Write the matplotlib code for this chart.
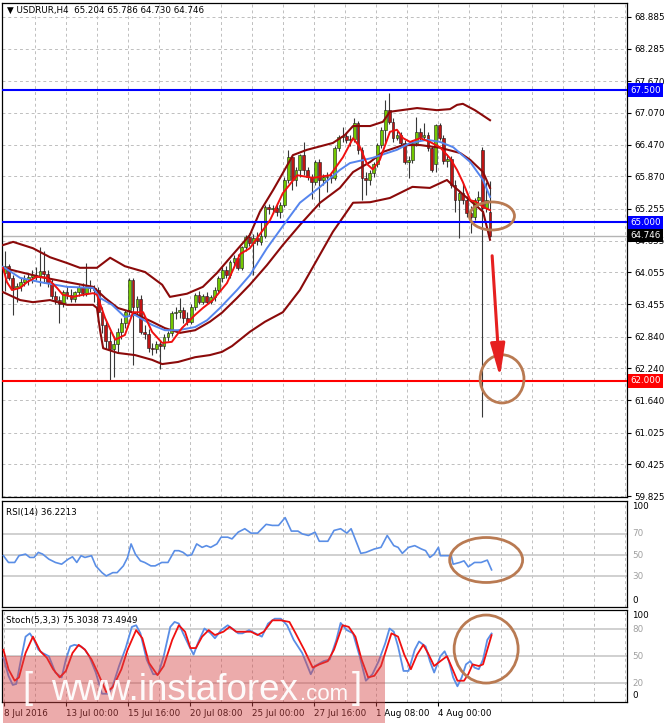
import matplotlib
matplotlib.use("Agg")
import matplotlib.pyplot as plt
from matplotlib.patches import Ellipse, Rectangle, FancyArrowPatch

plt.rcParams['font.family'] = ['DejaVu Sans']

# USDRUR H4 candles (bar index 0 = 8 Jul 2016 08:00)
opens = [64.05, 64.18, 63.95, 63.75, 63.80, 63.88, 63.92, 63.97, 64.00, 63.96,
         64.08, 64.02, 63.85, 63.60, 63.53, 63.45, 63.68, 63.62, 63.55, 63.68,
         63.78, 63.66, 63.80, 63.76, 63.72, 63.30, 63.05, 62.75, 62.60, 62.70,
         62.92, 63.10, 63.35, 63.91, 63.40, 63.55, 62.93, 62.88, 62.62, 62.60,
         62.70, 62.66, 62.83, 62.90, 63.28, 63.30, 63.34, 63.20, 63.12, 63.40,
         63.63, 63.50, 63.61, 63.50, 63.58, 63.72, 63.95, 64.10, 64.00, 64.25,
         64.33, 64.14, 64.53, 64.72, 64.60, 64.70, 64.62, 64.75, 65.29, 65.25,
         65.27, 65.20, 65.33, 65.80, 66.23, 65.80, 65.99, 66.28, 65.99, 65.86,
         65.76, 66.14, 65.80, 65.86, 65.88, 65.84, 66.40, 66.61, 66.63, 66.56,
         66.58, 66.88, 66.37, 65.84, 65.80, 65.93, 66.10, 66.46, 66.74, 67.12,
         66.90, 66.59, 66.65, 66.50, 66.14, 66.18, 66.50, 66.71, 66.62, 66.66,
         66.40, 66.10, 66.84, 66.60, 66.16, 66.20, 65.71, 65.42, 65.55, 65.42,
         65.18, 65.10, 65.42, 66.37, 65.27, 65.204]
highs = [64.45, 64.22, 64.00, 63.85, 63.95, 64.00, 64.05, 64.10, 64.15, 64.53,
         64.45, 64.10, 63.92, 63.70, 63.60, 63.72, 63.80, 63.74, 63.70, 63.82,
         63.85, 64.23, 63.90, 63.82, 63.78, 63.40, 63.15, 62.95, 62.85, 63.00,
         63.20, 63.35, 63.95, 63.95, 63.60, 63.62, 63.05, 62.98, 62.72, 62.75,
         62.78, 62.88, 62.95, 63.32, 63.40, 63.57, 63.40, 63.30, 63.45, 63.66,
         63.70, 63.65, 63.68, 63.62, 63.78, 63.98, 64.15, 64.18, 64.28, 64.38,
         64.40, 64.56, 64.76, 64.80, 64.78, 64.82, 65.00, 65.33, 65.35, 65.32,
         65.36, 65.38, 65.85, 66.37, 66.28, 66.05, 66.30, 66.52, 66.05, 65.92,
         66.18, 66.20, 65.92, 65.95, 65.96, 66.44, 66.66, 66.80, 66.70, 66.65,
         66.97, 66.92, 66.42, 65.95, 65.98, 66.14, 66.50, 66.80, 67.31, 67.44,
         66.98, 66.72, 66.70, 66.55, 66.25, 66.55, 66.99, 66.78, 66.88, 66.70,
         66.45, 66.86, 66.88, 66.65, 66.30, 66.25, 65.80, 65.60, 65.74, 65.50,
         65.30, 65.46, 65.60, 66.42, 65.76, 65.786]
lows = [63.70, 63.90, 63.25, 63.50, 63.70, 63.80, 63.82, 63.85, 63.90, 63.80,
        63.85, 63.78, 63.55, 63.45, 63.10, 63.40, 63.55, 63.50, 63.50, 63.60,
        63.60, 63.60, 63.68, 63.50, 63.20, 62.90, 62.60, 62.02, 62.08, 62.55,
        62.80, 63.00, 63.25, 62.30, 63.25, 62.88, 62.80, 62.55, 62.50, 62.52,
        62.22, 62.60, 62.75, 62.85, 63.18, 63.20, 63.10, 63.05, 63.08, 63.35,
        63.45, 63.45, 63.45, 63.45, 63.52, 63.68, 63.88, 63.95, 63.95, 64.18,
        64.10, 64.10, 64.45, 64.55, 64.00, 64.58, 64.58, 64.70, 65.15, 65.18,
        65.12, 65.08, 65.28, 65.75, 65.62, 65.68, 65.85, 65.90, 65.80, 65.45,
        65.70, 65.29, 65.70, 65.57, 65.75, 65.80, 66.35, 66.52, 66.50, 66.45,
        66.52, 66.30, 65.42, 65.52, 65.70, 65.85, 66.05, 66.40, 66.50, 66.85,
        66.52, 66.55, 66.45, 66.10, 65.84, 66.12, 66.45, 66.55, 66.55, 66.35,
        65.95, 65.95, 66.55, 66.10, 66.05, 65.65, 65.19, 64.70, 65.35, 65.10,
        64.80, 65.05, 65.30, 61.32, 65.20, 64.730]
closes = [64.18, 63.95, 63.75, 63.80, 63.88, 63.92, 63.97, 64.00, 63.96, 64.08,
          64.02, 63.85, 63.60, 63.53, 63.45, 63.68, 63.62, 63.55, 63.68, 63.78,
          63.66, 63.80, 63.76, 63.72, 63.30, 63.05, 62.75, 62.60, 62.70, 62.92,
          63.10, 63.30, 63.91, 63.40, 63.55, 62.93, 62.88, 62.62, 62.60, 62.70,
          62.66, 62.83, 62.90, 63.28, 63.30, 63.34, 63.20, 63.12, 63.40, 63.63,
          63.50, 63.61, 63.50, 63.58, 63.72, 63.95, 64.10, 64.00, 64.25, 64.33,
          64.14, 64.53, 64.72, 64.60, 64.70, 64.65, 64.75, 65.29, 65.25, 65.27,
          65.20, 65.33, 65.80, 66.23, 65.80, 65.99, 66.28, 65.99, 65.86, 65.76,
          66.14, 65.80, 65.86, 65.88, 65.84, 66.40, 66.61, 66.63, 66.56, 66.58,
          66.88, 66.37, 65.84, 65.80, 65.93, 66.10, 66.46, 66.74, 67.12, 66.90,
          66.59, 66.65, 66.50, 66.14, 66.18, 66.50, 66.71, 66.62, 66.66, 66.40,
          65.99, 66.84, 66.60, 66.16, 66.20, 65.71, 65.42, 65.55, 65.42, 65.18,
          65.10, 65.42, 65.48, 65.27, 65.42, 64.746]

# Bollinger bands (dark red)
bb_up_x = [-0.5, 2.1, 7.2, 11.6, 16.0, 19.3, 23.7, 27.1, 30.9, 36.1, 40.5, 42.5,
           46.9, 51.0, 54.6, 58.0, 63.1, 65.7, 69.1, 71.6, 74.2, 77.8, 80.4, 84.5,
           87.6, 89.7, 94.1, 97.4, 99.2, 106.2, 111.3, 114.7, 116.5, 118.0, 121.1, 125.0]
bb_up_y = [64.57, 64.63, 64.51, 64.34, 64.23, 64.14, 64.14, 64.33, 64.17, 64.06, 63.82, 63.59,
           63.65, 63.78, 64.04, 64.33, 64.76, 65.20, 65.61, 65.93, 66.27, 66.37, 66.42, 66.50,
           66.65, 66.82, 66.82, 66.90, 67.09, 67.16, 67.12, 67.14, 67.22, 67.24, 67.12, 66.93]
bb_mid_x = [-0.5, 3.9, 9.0, 16.0, 22.7, 25.8, 29.1, 32.7, 37.9, 41.2, 45.1, 49.0, 52.8,
            55.9, 59.8, 63.1, 67.5, 71.6, 76.0, 81.2, 86.3, 89.7, 94.1, 97.4, 102.6,
            107.0, 112.1, 117.3, 119.9, 123.2, 125.0]
bb_mid_y = [64.14, 64.06, 63.97, 63.87, 63.78, 63.57, 63.38, 63.30, 63.12, 63.00, 62.91, 62.96, 63.12,
            63.29, 63.57, 63.82, 64.19, 64.57, 64.95, 65.37, 65.65, 65.95, 66.14, 66.33, 66.46,
            66.46, 66.41, 66.31, 66.18, 65.95, 65.65]
bb_lo_x = [-0.5, 3.9, 7.2, 11.6, 16.0, 22.7, 23.7, 24.5, 25.3, 29.1, 33.5, 37.9, 40.5,
           44.6, 49.0, 52.8, 55.9, 58.5, 63.1, 67.0, 71.6, 76.0, 80.4, 84.5, 86.3, 89.7,
           94.1, 99.2, 105.0, 109.5, 113.9, 115.5, 119.1, 123.2, 125.0]
bb_lo_y = [63.68, 63.53, 63.49, 63.53, 63.44, 63.44, 63.38, 62.96, 62.62, 62.53, 62.49, 62.40, 62.32,
           62.36, 62.45, 62.49, 62.55, 62.66, 62.93, 63.12, 63.30, 63.72, 64.29, 64.82, 65.01, 65.37,
           65.38, 65.46, 65.67, 65.65, 65.80, 65.69, 65.46, 65.20, 64.67]

# moving averages
ma_slow_x = [-0.5, 3.9, 9.0, 16.0, 22.7, 24.5, 27.6, 30.9, 33.5, 37.9, 41.2, 44.6, 49.0,
             52.1, 55.4, 59.8, 63.1, 67.5, 72.7, 76.0, 81.2, 86.3, 88.9, 94.8, 101.0,
             104.4, 108.8, 112.1, 115.5, 119.9, 123.2, 125.0]
ma_slow_y = [64.16, 63.95, 63.87, 63.78, 63.76, 63.57, 63.44, 63.21, 63.25, 63.06, 62.96, 62.96, 63.02,
             63.15, 63.38, 63.72, 64.00, 64.51, 65.04, 65.37, 65.67, 65.99, 66.12, 66.22, 66.37,
             66.50, 66.56, 66.52, 66.42, 66.14, 65.80, 65.48]
ma_fast_x = [-0.5, 0.5, 1.8, 3.9, 5.7, 8.2, 10.8, 13.4, 14.9, 17.5, 20.1, 22.7, 23.7, 25.8,
             28.4, 30.9, 33.0, 35.6, 37.9, 40.5, 43.0, 45.6, 49.0, 51.0, 53.6, 57.2, 60.6,
             63.1, 68.3, 71.6, 75.3, 79.4, 83.8, 87.1, 89.7, 91.5, 93.3, 94.8, 96.6, 99.2,
             101.0, 102.6, 104.4, 107.0, 109.5, 112.1, 114.7, 116.5, 118.0, 119.9, 121.6,
             123.2, 125.0]
ma_fast_y = [64.14, 63.87, 63.72, 63.76, 63.87, 63.97, 63.95, 63.76, 63.63, 63.59, 63.63, 63.66, 63.63, 63.19,
             62.78, 62.87, 63.30, 63.30, 62.93, 62.72, 62.74, 63.00, 63.25, 63.38, 63.53, 63.85, 64.40,
             64.51, 65.04, 65.55, 65.89, 65.84, 65.89, 66.23, 66.59, 66.42, 66.10, 66.00, 66.18, 66.71,
             66.75, 66.59, 66.52, 66.59, 66.52, 66.42, 66.21, 65.99, 65.76, 65.42, 65.38,
             65.29, 65.23]

# RSI(14)
rsi_x = [-0.4, 0.9, 2.5, 3.6, 5.3, 6.4, 7.5, 8.6, 9.7, 11.3, 13.0, 14.6, 16.3, 17.4, 18.5,
         19.6, 20.6, 22.3, 23.4, 25.0, 26.1, 27.8, 28.9, 30.5, 31.6, 32.5, 33.6, 34.9, 36.0,
         37.6, 38.7, 40.4, 42.0, 43.7, 44.8, 45.9, 47.0, 48.1, 49.4, 50.8, 51.9, 53.0, 54.6,
         55.7, 57.4, 58.5, 60.1, 61.8, 63.4, 65.1, 67.3, 68.9, 70.5, 72.2, 73.8, 75.5, 76.6,
         78.2, 79.9, 81.0, 83.2, 84.8, 86.5, 88.1, 89.2, 91.7, 93.0, 94.1, 95.2, 96.9, 98.5,
         100.2, 101.3, 102.4, 104.0, 105.6, 107.3, 108.4, 109.5, 110.6, 111.7, 112.2, 113.9,
         115.0, 115.5, 117.2, 118.3, 119.4, 121.0, 122.7, 124.3, 125.4]
rsi_y = [49.4, 43.1, 43.1, 49.4, 50.9, 47.8, 47.8, 52.5, 50.9, 46.2, 43.1, 41.5, 46.2, 48.4, 43.1,
         49.4, 47.8, 49.4, 39.9, 33.6, 30.5, 33.6, 33.6, 39.9, 47.8, 60.4, 50.9, 44.6, 43.1,
         39.9, 39.9, 43.1, 43.1, 54.1, 54.1, 52.5, 49.4, 50.3, 60.4, 57.2, 58.8, 57.2, 60.4,
         66.7, 66.7, 65.1, 71.4, 74.6, 70.5, 70.5, 78.7, 77.7, 77.7, 85.0, 72.4, 72.4, 69.8,
         68.3, 71.4, 62.9, 62.9, 73.0, 74.6, 70.5, 74.6, 51.6, 52.5, 54.1, 55.7, 57.2, 68.3,
         58.8, 57.2, 51.6, 57.2, 58.8, 55.7, 54.1, 47.8, 50.9, 57.2, 49.4, 49.4,
         49.4, 41.5, 43.1, 44.6, 39.0, 43.1, 43.1, 45.3, 36.2]

# Stochastic(5,3,3)
stk_x = [-0.4, 0.9, 2.0, 2.9, 4.2, 5.3, 6.4, 7.5, 8.6, 9.7, 11.3, 13.0, 14.6, 15.7, 16.8,
         17.9, 19.6, 20.6, 21.7, 23.4, 25.0, 26.7, 27.8, 29.4, 31.1, 32.7, 33.8, 34.9, 36.5,
         38.2, 39.5, 40.9, 42.6, 43.7, 44.8, 45.9, 47.5, 48.6, 49.7, 51.4, 53.0, 54.1, 55.7,
         57.4, 58.5, 60.1, 61.2, 62.9, 64.5, 66.2, 67.8, 69.5, 71.1, 72.7, 74.4, 76.6, 78.8,
         79.9, 82.1, 83.7, 85.4, 86.5, 88.1, 89.7, 91.4, 93.0, 94.7, 96.3, 98.0, 99.1, 100.2,
         101.3, 102.7, 104.0, 105.6, 106.7, 108.4, 109.5, 110.6, 112.2, 113.3, 114.4, 115.5,
         116.6, 117.7, 118.8, 119.9, 121.0, 122.1, 123.2, 124.3, 125.4]
stk_y = [48.2, 28.2, 18.0, 19.1, 48.2, 71.8, 75.5, 68.2, 57.3, 53.6, 50.0, 31.8, 26.4, 46.4, 60.9,
         62.7, 60.9, 57.3, 50.0, 31.8, 8.2, 8.2, 17.3, 39.1, 59.1, 82.7, 84.5, 75.5, 46.4,
         30.0, 30.0, 50.0, 82.7, 88.2, 86.4, 75.5, 60.9, 51.8, 64.5, 80.9, 75.5, 70.0, 79.1,
         84.5, 80.9, 75.5, 75.5, 79.1, 75.5, 71.8, 86.4, 91.8, 91.8, 84.5, 68.2, 53.6, 30.0,
         39.1, 44.5, 46.4, 68.2, 87.1, 79.1, 75.5, 50.0, 22.7, 30.0, 44.5, 64.5, 80.9, 77.3,
         60.9, 33.6, 33.6, 57.3, 66.4, 60.9, 44.5, 31.8, 50.0, 55.5, 44.5, 26.4,
         16.5, 26.4, 40.9, 44.5, 37.3, 35.5, 46.4, 68.2, 75.3]
std_x = [-0.4, 0.9, 2.5, 3.6, 5.3, 7.2, 9.1, 10.8, 12.4, 14.1, 15.7, 17.4, 19.0, 20.6, 22.3,
         23.9, 26.1, 27.8, 30.0, 31.6, 33.8, 35.4, 37.1, 39.3, 40.9, 43.1, 44.8, 46.4, 47.8,
         49.2, 50.8, 52.5, 54.1, 56.3, 57.9, 59.6, 61.2, 63.4, 65.1, 66.7, 68.9, 71.1, 73.3,
         74.9, 77.1, 79.3, 81.0, 83.2, 84.8, 87.0, 88.6, 90.3, 91.9, 93.6, 95.2, 96.9, 99.6,
         101.3, 102.9, 104.6, 106.2, 107.8, 109.0, 110.6, 112.2, 113.9, 115.0, 116.6, 118.3,
         119.4, 120.5, 122.1, 123.2, 124.3, 125.4]
std_y = [57.3, 35.5, 22.7, 26.4, 53.6, 71.8, 55.5, 48.2, 35.5, 26.4, 33.6, 53.6, 62.7, 57.3, 46.4,
         31.8, 10.0, 15.5, 35.5, 57.3, 79.1, 70.0, 42.7, 28.9, 39.1, 68.2, 84.5, 77.3, 59.1,
         59.1, 71.8, 79.1, 73.6, 77.3, 82.7, 77.3, 77.3, 77.3, 73.6, 77.3, 90.0, 90.0, 88.2,
         75.5, 57.3, 37.3, 40.9, 44.5, 57.3, 84.5, 82.7, 71.8, 46.4, 26.4, 28.2, 39.1, 75.5,
         71.8, 51.8, 35.5, 51.8, 62.7, 53.6, 39.1, 44.5, 50.0, 39.1, 22.7, 22.7,
         30.0, 40.9, 39.1, 40.9, 57.3, 73.5]

price_ticks = [68.885, 68.285, 67.670, 67.070, 66.470, 65.870, 65.255, 64.655,
               64.055, 63.455, 62.840, 62.240, 61.640, 61.025, 60.425, 59.825]
level_blue = [67.5, 65.0]
level_red = 62.0
last_price = 64.746
date_bars = [0, 16, 32, 48, 64, 80, 96, 112]
date_labels = ['8 Jul 2016', '13 Jul 00:00', '15 Jul 16:00', '20 Jul 08:00',
               '25 Jul 00:00', '27 Jul 16:00', '1 Aug 08:00', '4 Aug 00:00']

DARKRED = '#8B0A0A'
MABLUE = '#5585EE'
GRID = '#BEBEBE'
BROWN = '#B97A52'
FS = 6.3

fig = plt.figure(figsize=(6.65, 7.23), dpi=100)
ax = fig.add_axes([2/665, 1-497/723, 625/665, 494/723])
ax_rsi = fig.add_axes([2/665, 1-607/723, 625/665, 106/723])
ax_st = fig.add_axes([2/665, 1-702/723, 625/665, 92/723])

xlim = (-0.77, 160.3)
grid_x = [8*k - 0.3 for k in range(1, 21)]

for a in (ax, ax_rsi, ax_st):
    a.set_xlim(*xlim)
    for s in a.spines.values():
        s.set_linewidth(0.9)
        s.set_color('black')

# ---- main panel ----
idx = list(range(len(closes)))
bottoms = [min(o, c) for o, c in zip(opens, closes)]
heights = [abs(c - o) for o, c in zip(opens, closes)]
colors = ['#72C800' if c >= o else '#C01414' for o, c in zip(opens, closes)]
ax.vlines(idx, lows, highs, color='#383838', lw=0.8, zorder=2)
ax.bar(idx, heights, bottom=bottoms, width=0.72, color=colors,
       edgecolor='#1a1a1a', linewidth=0.4, zorder=3)

ax.plot(bb_up_x, bb_up_y, color=DARKRED, lw=1.5, zorder=4)
ax.plot(bb_mid_x, bb_mid_y, color=DARKRED, lw=1.5, zorder=4)
ax.plot(bb_lo_x, bb_lo_y, color=DARKRED, lw=1.5, zorder=4)
ax.plot(ma_slow_x, ma_slow_y, color=MABLUE, lw=1.4, zorder=5)
ax.plot(ma_fast_x, ma_fast_y, color='#F01010', lw=1.4, zorder=6)

for v in level_blue:
    ax.axhline(v, color='#0000FF', lw=1.5, zorder=4)
ax.axhline(level_red, color='#FF0000', lw=1.5, zorder=4)
ax.axhline(last_price, color='#B4B4B4', lw=1.0, zorder=1)

ax.set_ylim(59.807, 69.146)
ax.set_xticks(grid_x)
ax.tick_params(axis='x', length=0, labelbottom=False)
ax.yaxis.tick_right()
ax.set_yticks(price_ticks)
ax.set_yticklabels([f"{v:.3f}" for v in price_ticks])
ax.tick_params(axis='y', labelsize=FS, length=3, pad=2)
ax.grid(True, ls=(0, (3, 3)), color=GRID, lw=0.7)
ax.set_axisbelow(True)

ytr = ax.get_yaxis_transform()
box = dict(boxstyle='square,pad=0.25', ec='none')
for v in level_blue:
    ax.text(1.005, v, f"{v:.3f}", transform=ytr, fontsize=FS, color='white',
            va='center', ha='left', bbox=dict(box, fc='#0000FF'), clip_on=False, zorder=10)
ax.text(1.005, level_red, f"{level_red:.3f}", transform=ytr, fontsize=FS, color='white',
        va='center', ha='left', bbox=dict(box, fc='#FF0000'), clip_on=False, zorder=10)
ax.text(1.005, last_price, f"{last_price:.3f}", transform=ytr, fontsize=FS, color='white',
        va='center', ha='left', bbox=dict(box, fc='black'), clip_on=False, zorder=10)

ax.text(0.008, 0.986, "\u25bc USDRUR,H4  65.204 65.786 64.730 64.746",
        transform=ax.transAxes, fontsize=FS, va='center', ha='left')

# annotations
ax.add_patch(Ellipse((125.5, 65.12), 11.6, 0.53, fill=False, ec=BROWN, lw=2.0,
                     zorder=8, clip_on=False))
ax.add_patch(Ellipse((128.1, 62.04), 11.3, 0.91, fill=False, ec=BROWN, lw=2.0,
                     zorder=8, clip_on=False))
ax.add_patch(FancyArrowPatch((125.5, 64.42), (127.6, 62.02),
                             arrowstyle='-|>,head_length=1.0,head_width=0.22',
                             mutation_scale=20, color='#E62020', lw=2.2, zorder=9))

# ---- RSI ----
ax_rsi.plot(rsi_x, rsi_y, color='#5A8EE6', lw=1.2, zorder=3)
for v in (70, 50, 30):
    ax_rsi.axhline(v, color='#C8C8C8', lw=1.2, zorder=1)
ax_rsi.set_ylim(1.5, 100.5)
ax_rsi.set_xticks(grid_x)
ax_rsi.set_yticks([])
ax_rsi.tick_params(axis='x', length=0, labelbottom=False)
ax_rsi.grid(True, axis='x', ls=(0, (3, 3)), color=GRID, lw=0.7)
ax_rsi.set_axisbelow(True)
rtr = ax_rsi.get_yaxis_transform()
ax_rsi.text(1.008, 99.5, "100", transform=rtr, fontsize=FS, va='top', clip_on=False)
for v in (70, 50, 30):
    ax_rsi.text(1.008, v, str(v), transform=rtr, fontsize=FS, va='center',
                color='#A0A0A0', clip_on=False)
ax_rsi.text(1.008, 3, "0", transform=rtr, fontsize=FS, va='bottom', clip_on=False)
ax_rsi.text(0.006, 0.895, "RSI(14) 36.2213", transform=ax_rsi.transAxes,
            fontsize=FS, va='center')
ax_rsi.add_patch(Ellipse((124.0, 45.4), 18.8, 42, fill=False, ec=BROWN, lw=2.0,
                         zorder=8, clip_on=False))

# ---- Stochastic ----
ax_st.plot(stk_x, stk_y, color='#5A8EE6', lw=1.3, zorder=3)
ax_st.plot(std_x, std_y, color='#F01010', lw=1.3, zorder=4)
for v in (80, 50, 20):
    ax_st.axhline(v, color='#C8C8C8', lw=1.2, zorder=1)
ax_st.set_ylim(-1, 101.5)
ax_st.set_yticks([])
date_pos = [b - 0.3 for b in date_bars]
ax_st.set_xticks(date_pos)
ax_st.set_xticklabels(date_labels)
for lab in ax_st.get_xticklabels():
    lab.set_ha('left')
ax_st.set_xticks([g for g in grid_x if g not in date_pos], minor=True)
ax_st.tick_params(axis='x', which='major', length=3, labelsize=FS, pad=2)
ax_st.tick_params(axis='x', which='minor', length=0)
ax_st.grid(True, axis='x', which='both', ls=(0, (3, 3)), color=GRID, lw=0.7)
ax_st.set_axisbelow(True)
stt = ax_st.get_yaxis_transform()
ax_st.text(1.008, 100.5, "100", transform=stt, fontsize=FS, va='top', clip_on=False)
for v in (80, 50, 20):
    ax_st.text(1.008, v, str(v), transform=stt, fontsize=FS, va='center',
               color='#A0A0A0', clip_on=False)
ax_st.text(1.008, 1, "0", transform=stt, fontsize=FS, va='bottom', clip_on=False)
ax_st.text(0.006, 0.885, "Stoch(5,3,3) 75.3038 73.4949", transform=ax_st.transAxes,
           fontsize=FS, va='center')
ax_st.add_patch(Ellipse((124.0, 58.0), 16.5, 75.8, fill=False, ec=BROWN, lw=2.0,
                        zorder=8, clip_on=False))

# ---- watermark ----
fig.add_artist(Rectangle((3/665, 0), 382/665, 67/723, transform=fig.transFigure,
                         fc=(0.84, 0.27, 0.27), alpha=0.45, ec='none', zorder=20))
wm = dict(color='white', family=['Liberation Sans', 'DejaVu Sans'], va='baseline', zorder=21, alpha=0.95)
fig.text(22/665, 25/723, "[", fontsize=26, **wm)
fig.text(51/665, 23/723, "www.instaforex", fontsize=26.5, **wm)
fig.text(300/665, 23/723, ".com", fontsize=16, **wm)
fig.text(352/665, 25/723, "]", fontsize=26, **wm)

fig.savefig("out.png", dpi=100)
